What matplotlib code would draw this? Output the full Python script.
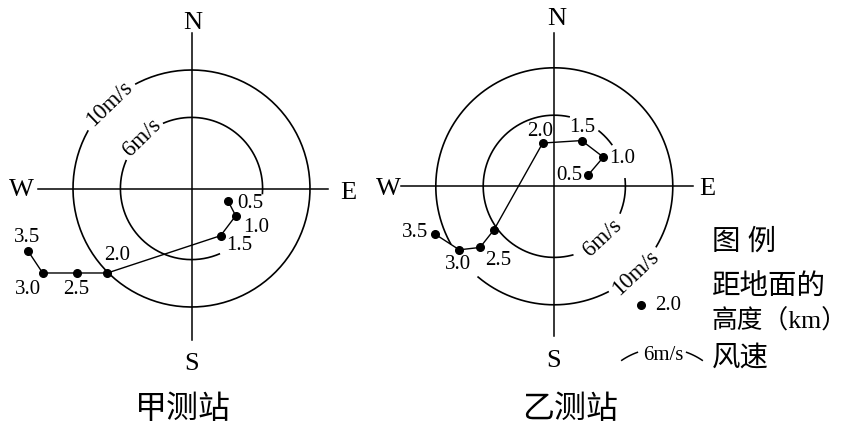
import numpy as np
import matplotlib.pyplot as plt

W, H = 846, 428
SCALE = 11.85  # pixels per m/s
SERIF = ["Liberation Serif", "DejaVu Serif"]
CJK = ["Liberation Serif", "Noto Sans CJK SC", "DejaVu Sans"]

# wind at each height (km above ground): east / north components in m/s
jia_heights = ["0.5", "1.0", "1.5", "2.0", "2.5", "3.0", "3.5"]
jia_east = [3.1, 3.73, 2.46, -7.1, -9.69, -12.56, -13.77]
jia_north = [-1.09, -2.3, -3.98, -7.13, -7.13, -7.13, -5.31]

yi_heights = ["0.5", "1.0", "1.5", "2.0", "", "2.5", "3.0", "3.5"]
yi_east = [2.87, 4.14, 2.31, -0.98, -5.09, -6.27, -8.02, -10.07]
yi_north = [0.97, 2.46, 3.86, 3.65, -3.67, -5.16, -5.36, -4.03]

ring_speeds = [6, 10]
ring_labels = ["6m/s", "10m/s"]
titles = ["甲测站", "乙测站"]
legend_lines = ["图 例", "距地面的", "高度（km）", "风速"]
legend_sample = "2.0"


def px(x, y):
    return x / W, 1 - y / H


def make_ax(fig, cx, cy, hw=16, hh=15.5):
    ax = fig.add_axes([(cx - hw * SCALE) / W, 1 - (cy + hh * SCALE) / H,
                       2 * hw * SCALE / W, 2 * hh * SCALE / H])
    ax.set_xlim(-hw, hw)
    ax.set_ylim(-hh, hh)
    ax.axis("off")
    return ax


def draw_station(ax, east, north, heights, offsets, arcs, label_ang, compass, cross):
    (x0, x1), (y0, y1) = cross
    ax.plot([x0, x1], [0, 0], color="black", lw=1.1)
    ax.plot([0, 0], [y0, y1], color="black", lw=1.1)
    for letter, (lx, ly) in compass.items():
        ax.text(lx, ly, letter, family=SERIF, fontsize=19, ha="center", va="center")

    for speed, lab in zip(ring_speeds, ring_labels):
        for a0, a1 in arcs[speed]:
            t = np.radians(np.linspace(a0, a1, 200))
            ax.plot(speed * np.cos(t), speed * np.sin(t), color="black", lw=1.2)
        ang = label_ang[speed]
        rot = ang - 90 if ang > 0 else ang + 90
        ax.text(speed * np.cos(np.radians(ang)), speed * np.sin(np.radians(ang)), lab,
                family=SERIF, fontsize=16.5, ha="center", va="center",
                rotation=rot, rotation_mode="anchor")

    ax.plot(east, north, color="black", lw=1.0, marker="o", ms=5.5)
    for x, y, h, (dx, dy) in zip(east, north, heights, offsets):
        if h:
            ax.annotate(h, (x, y), xytext=(dx * 0.72, dy * 0.72), textcoords="offset points",
                        family=SERIF, fontsize=15, ha="center", va="center")


fig = plt.figure(figsize=(W / 100, H / 100), dpi=100)

ax1 = make_ax(fig, 191.5, 188.5)
draw_station(ax1, jia_east, jia_north, jia_heights,
             [(22, -2), (20.6, -12), (18.5, -9.5), (9.4, 17), (0, -16.5), (-14.4, -16.5), (-1.6, 13.5)],
             {6: [(-4, 113), (157, 293)], 10: [(151, 478)]},
             {6: 134.3, 10: 134},
             {"N": (0.15, 14.0), "S": (0, -14.8), "W": (-14.33, -0.1), "E": (13.2, -0.35)},
             ((-12.95, 11.52), (-12.8, 13.1)))

ax2 = make_ax(fig, 554.3, 186.3)
draw_station(ax2, yi_east, yi_north, yi_heights,
             [(-19, -0.7), (19, -1.7), (0.8, 13.5), (-2.7, 12), (0, 0), (18.3, -13), (-1, -14.8), (-20, 1.1)],
             {6: [(78, 285), (-22, 6), (36, 51)], 10: [(-30.6, 209), (230, 297)]},
             {6: -47, 10: -46.8},
             {"N": (0.2, 14.1), "S": (-0.1, -14.75), "W": (-14.0, -0.25), "E": (12.9, -0.25)},
             ((-12.9, 11.7), (-12.6, 12.9)))

# titles under each diagram
fig.text(*px(182.5, 410), titles[0], family=CJK, fontsize=23, ha="center", va="center")
fig.text(*px(570.5, 410), titles[1], family=CJK, fontsize=23, ha="center", va="center")

# legend (the km line is a little smaller so it stays inside the picture)
for txt, y, fs in zip(legend_lines, [242.5, 286.8, 321, 358.5], [20.5, 20.5, 18.5, 20.5]):
    fig.text(*px(711.5, y), txt, family=CJK, fontsize=fs, ha="left", va="center")

lax = fig.add_axes([0, 0, 1, 1])
lax.set_xlim(0, W)
lax.set_ylim(H, 0)
lax.axis("off")
lax.plot([640.7], [305], "o", color="black", ms=5.5)
lax.text(655, 306, legend_sample, family=SERIF, fontsize=15, ha="left", va="center")
lax.text(663.5, 356, ring_labels[0], family=SERIF, fontsize=15, ha="center", va="center")
for a0, a1 in [(-124, -110), (-70, -56)]:
    t = np.radians(np.linspace(a0, a1, 30))
    lax.plot(662 + 72 * np.cos(t), 420 + 72 * np.sin(t), color="black", lw=1.1)

fig.savefig("out.png", dpi=100)
